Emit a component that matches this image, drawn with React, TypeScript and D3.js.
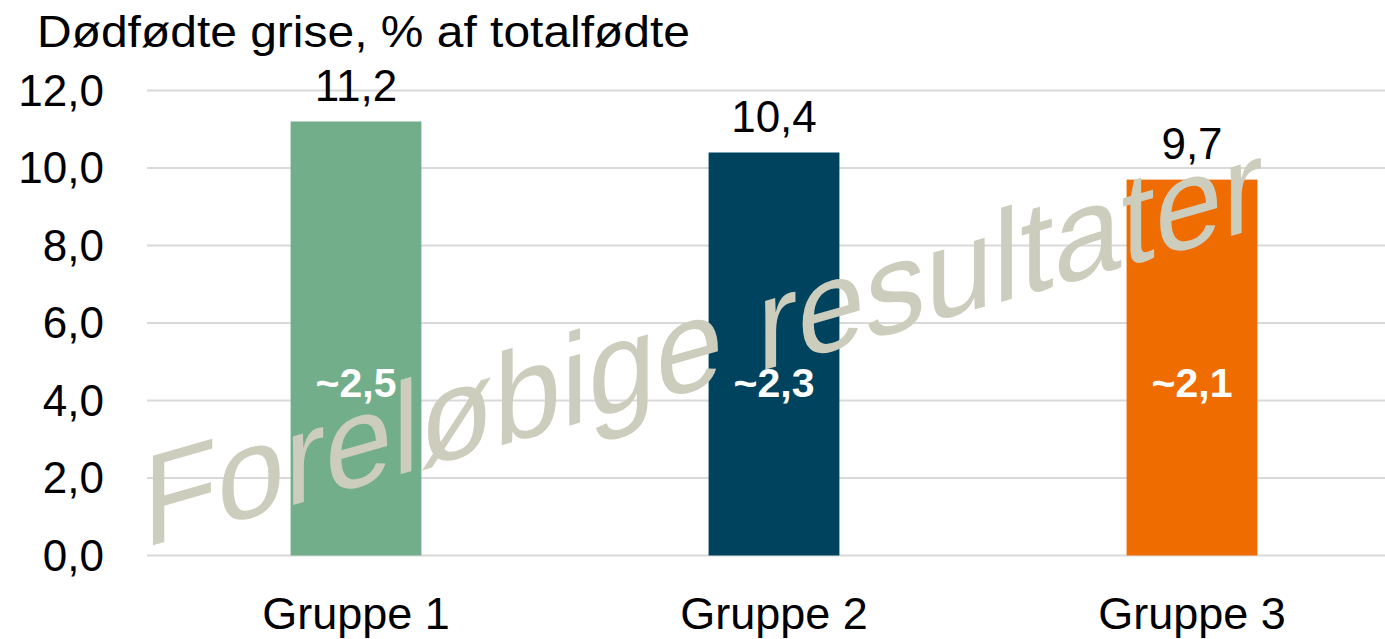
import { useRef, useEffect } from "react";
import * as d3 from "d3";

const groups = ["Gruppe 1", "Gruppe 2", "Gruppe 3"];
const values = [11.2, 10.4, 9.7];
const innerLabels = ["~2,5", "~2,3", "~2,1"];
const colors = ["#72AE8A", "#00435E", "#EF6C00"];
const yTicks = [0, 2, 4, 6, 8, 10, 12];
const title = "Dødfødte grise, % af totalfødte";
const watermark = "Foreløbige resultater";

const App = () => {
  const chartRef = useRef(null);

  useEffect(() => {
    const chartElement = chartRef.current;
    const width = 1385;
    const height = 639;
    const font = "'Liberation Sans', Arial, sans-serif";

    const svg = d3
      .select(chartElement)
      .append("svg")
      .attr("width", width)
      .attr("height", height)
      .style("position", "absolute")
      .style("left", "0px")
      .style("top", "0px")
      .style("font-family", font);

    const xScale = d3
      .scaleBand<string>()
      .domain(groups)
      .range([147, 1401])
      .paddingInner(0.687)
      .paddingOuter(0.3435);

    const yScale = d3.scaleLinear().domain([0, 12]).range([555.5, 90.5]);

    const fmt = (v: number) => d3.format(".1f")(v).replace(".", ",");

    // gridlines
    svg
      .append("g")
      .selectAll("line")
      .data(yTicks)
      .enter()
      .append("line")
      .attr("x1", 147)
      .attr("x2", 1401)
      .attr("y1", d => yScale(d))
      .attr("y2", d => yScale(d))
      .attr("stroke", "#D9D9D9")
      .attr("stroke-width", 2);

    // y tick labels
    svg
      .append("g")
      .selectAll("text")
      .data(yTicks)
      .enter()
      .append("text")
      .attr("x", 104)
      .attr("y", d => yScale(d))
      .attr("dy", "0.35em")
      .attr("text-anchor", "end")
      .attr("font-size", 44)
      .attr("fill", "#000")
      .text(d => fmt(d));

    // title
    svg
      .append("text")
      .attr("x", 37)
      .attr("y", 47)
      .attr("font-size", 45)
      .attr("textLength", 653)
      .attr("lengthAdjust", "spacingAndGlyphs")
      .text(title);

    // bars
    svg
      .append("g")
      .selectAll("rect")
      .data(values)
      .enter()
      .append("rect")
      .attr("x", (_d, i) => xScale(groups[i]) as number)
      .attr("y", d => yScale(d))
      .attr("width", xScale.bandwidth())
      .attr("height", d => yScale(0) - yScale(d))
      .attr("fill", (_d, i) => colors[i]);

    // value labels
    svg
      .append("g")
      .selectAll("text")
      .data(values)
      .enter()
      .append("text")
      .attr("x", (_d, i) => (xScale(groups[i]) as number) + xScale.bandwidth() / 2)
      .attr("y", d => yScale(d) - 21)
      .attr("text-anchor", "middle")
      .attr("font-size", 44)
      .text(d => fmt(d));

    // inner labels
    svg
      .append("g")
      .selectAll("text")
      .data(innerLabels)
      .enter()
      .append("text")
      .attr("x", (_d, i) => (xScale(groups[i]) as number) + xScale.bandwidth() / 2)
      .attr("y", yScale(4.1))
      .attr("text-anchor", "middle")
      .attr("font-size", 41)
      .attr("font-weight", "bold")
      .attr("fill", "#fff")
      .text(d => d);

    // category labels
    svg
      .append("g")
      .selectAll("text")
      .data(groups)
      .enter()
      .append("text")
      .attr("x", d => (xScale(d) as number) + xScale.bandwidth() / 2)
      .attr("y", 629)
      .attr("text-anchor", "middle")
      .attr("font-size", 45)
      .text(d => d);

    // watermark
    svg
      .append("text")
      .attr("transform", "translate(143, 548) skewY(-16)")
      .attr("font-size", 130)
      .attr("textLength", 1120)
      .attr("lengthAdjust", "spacingAndGlyphs")
      .attr("fill", "#CDCDBD")
      .text(watermark);

    return () => {
      d3.select(chartElement).select("svg").remove();
    };
  }, []);

  return <div ref={chartRef}></div>;
};

export default App;
